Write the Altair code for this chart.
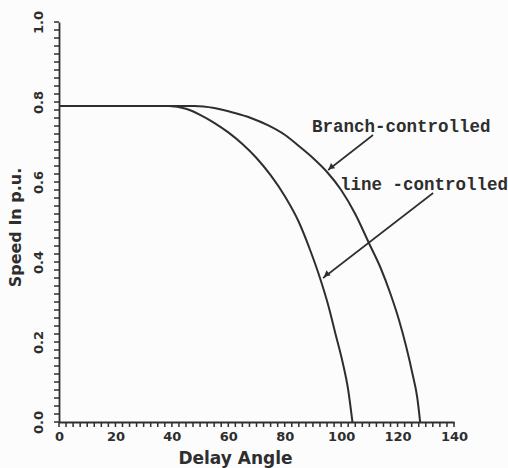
import altair as alt
import pandas as pd

# Speed (p.u.) against delay angle for the two control schemes
line_angle = [0, 39, 45, 50, 55, 60, 65, 70, 75, 80, 85, 89, 92.5, 95.5, 98, 100.5, 102.5, 104]
line_speed = [0.79, 0.79, 0.783, 0.768, 0.748, 0.724, 0.695, 0.66, 0.617, 0.565, 0.5, 0.43,
              0.36, 0.29, 0.22, 0.15, 0.08, 0.0]

branch_angle = [0, 48, 55, 62, 68, 74, 80, 85, 90, 95, 100, 105, 110, 114, 117.5, 120.5,
                123, 125.3, 127, 128]
branch_speed = [0.79, 0.79, 0.785, 0.773, 0.76, 0.742, 0.718, 0.69, 0.66, 0.625, 0.58, 0.52,
                0.445, 0.385, 0.32, 0.255, 0.19, 0.12, 0.06, 0.0]

# Callout labels and their leader arrows (start -> end, in data units)
label_text = ["Branch-controlled", "line -controlled"]
label_x = [89.7, 99.6]
label_y = [0.7375, 0.5925]
arrow_x = [111.3, 132.6]
arrow_y = [0.7175, 0.5725]
arrow_x2 = [95.4, 93.6]
arrow_y2 = [0.63, 0.36]
head_x = [96.6, 95.0]
head_y = [0.638, 0.37]
head_angle = [231, 232]

# Axis tick positions (minor ticks every 2.5 deg / 0.02 p.u.)
x_ticks = [k * 2.5 for k in range(57)]
y_ticks = [round(k * 0.02, 2) for k in range(51)]
x_labels = [0, 20, 40, 60, 80, 100, 120, 140]
y_labels = [0.0, 0.2, 0.4, 0.6, 0.8, 1.0]

ink = "#2e2e2e"
axis_font = "DejaVu Sans"
plot_w, plot_h = 395, 400

curves = pd.concat([
    pd.DataFrame({"angle": line_angle, "speed": line_speed, "scheme": "line"}),
    pd.DataFrame({"angle": branch_angle, "speed": branch_speed, "scheme": "branch"}),
])
labels = pd.DataFrame({"text": label_text, "x": label_x, "y": label_y})
arrows = pd.DataFrame({"x": arrow_x, "y": arrow_y, "x2": arrow_x2, "y2": arrow_y2})
heads = pd.DataFrame({"x": head_x, "y": head_y, "a": head_angle})

x_scale = alt.Scale(domain=[0, 140], nice=False)
y_scale = alt.Scale(domain=[0, 1], nice=False)

x_axis = alt.Axis(
    values=x_labels, tickCount=20, format="d",
    labelOverlap=False, labelFlush=False,
    labelFont=axis_font, labelFontWeight="bold", labelFontSize=13, labelColor=ink,
    labelPadding=8, ticks=False,
    domainWidth=1.8, domainColor=ink, grid=False,
    title="Delay Angle", titleFont=axis_font, titleFontWeight="bold", titleFontSize=17,
    titleColor=ink, titleX=176, titleY=36, titleBaseline="middle", titleAlign="center",
)
y_axis = alt.Axis(
    values=y_labels, tickCount=20, format=".1f",
    labelOverlap=False, labelFlush=False,
    labelFont=axis_font, labelFontWeight="bold", labelFontSize=13, labelColor=ink,
    labelAngle=270, labelPadding=14, ticks=False,
    domainWidth=1.8, domainColor=ink, grid=False,
    title="Speed In p.u.", titleFont=axis_font, titleFontWeight="bold", titleFontSize=16,
    titleColor=ink, titleAngle=270, titleX=-44, titleY=205,
    titleBaseline="middle", titleAlign="center",
)

curve_layer = alt.Chart(curves).mark_line(
    color=ink, strokeWidth=2, interpolate="monotone"
).encode(
    x=alt.X("angle:Q", scale=x_scale, axis=x_axis),
    y=alt.Y("speed:Q", scale=y_scale, axis=y_axis),
    detail="scheme:N",
    order="angle:Q",
)

# Dense tick combs along both axes
x_tick_layer = alt.Chart(pd.DataFrame({"v": x_ticks})).mark_rule(
    color=ink, strokeWidth=1.5
).encode(
    x=alt.X("v:Q", scale=x_scale), y=alt.value(plot_h), y2=alt.value(plot_h + 5),
)
y_tick_layer = alt.Chart(pd.DataFrame({"v": y_ticks})).mark_rule(
    color=ink, strokeWidth=1.5
).encode(
    y=alt.Y("v:Q", scale=y_scale), x=alt.value(-5), x2=alt.value(0),
)

arrow_layer = alt.Chart(arrows).mark_rule(color=ink, strokeWidth=1.6).encode(
    x=alt.X("x:Q", scale=x_scale), y=alt.Y("y:Q", scale=y_scale),
    x2="x2:Q", y2="y2:Q",
)

head_layer = alt.Chart(heads).mark_point(
    shape="triangle", filled=True, color=ink, size=45, opacity=1
).encode(
    x=alt.X("x:Q", scale=x_scale), y=alt.Y("y:Q", scale=y_scale),
    angle=alt.Angle("a:Q", scale=None),
)

text_layer = alt.Chart(labels).mark_text(
    align="left", baseline="middle", font="Liberation Mono", fontWeight="bold",
    fontSize=17.5, color=ink,
).encode(
    x=alt.X("x:Q", scale=x_scale), y=alt.Y("y:Q", scale=y_scale), text="text:N",
)

chart = alt.layer(
    curve_layer, x_tick_layer, y_tick_layer, arrow_layer, head_layer, text_layer
).properties(
    width=plot_w, height=plot_h,
    autosize=alt.AutoSizeParams(type="none"),
    padding={"left": 59, "top": 22, "right": 54, "bottom": 46},
    background="#fcfcfc",
).configure_view(strokeOpacity=0)

chart.save("out.html", embed_options={"renderer": "svg", "actions": False})
